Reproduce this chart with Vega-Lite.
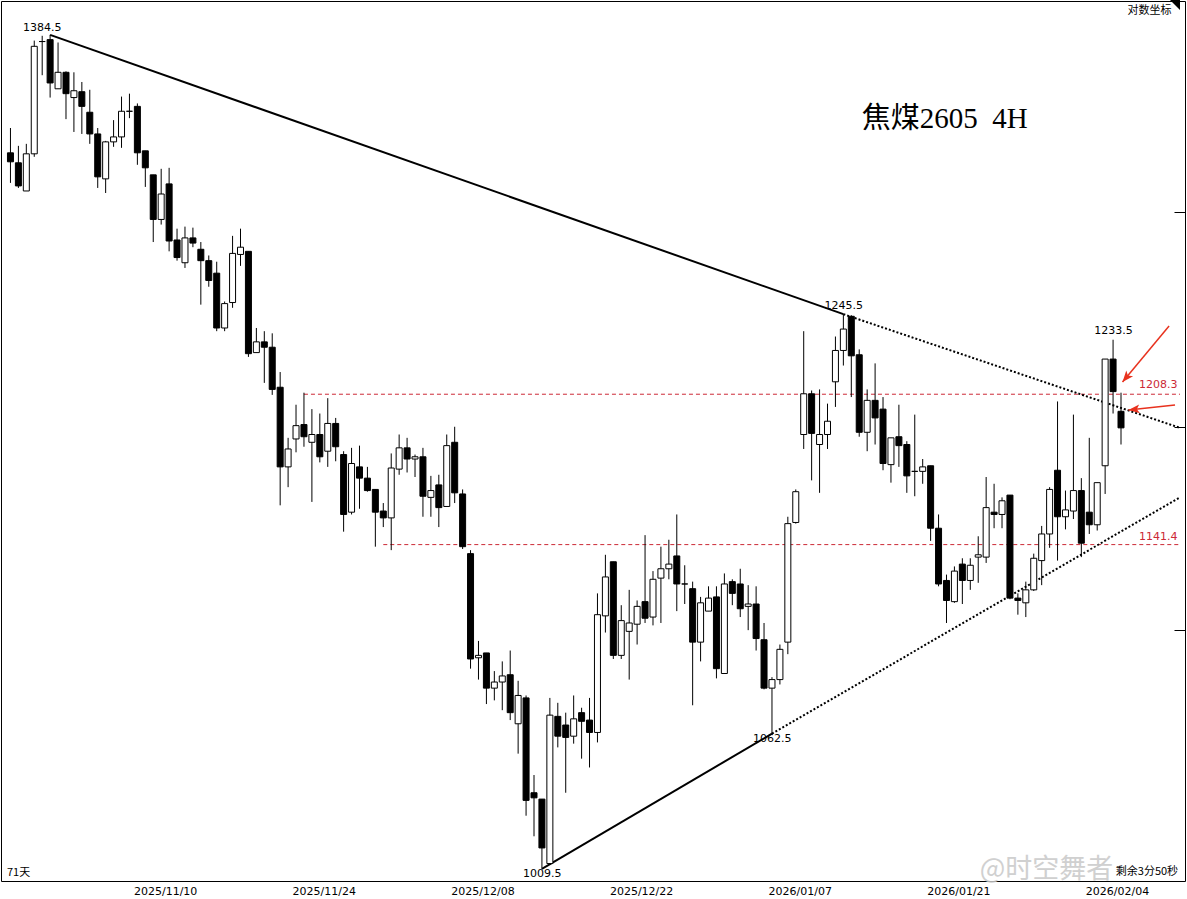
{
  "$schema": "https://vega.github.io/schema/vega-lite/v6.json",
  "width": 1184,
  "height": 880,
  "autosize": "none",
  "padding": {"left": 1, "top": 1, "right": 2, "bottom": 18},
  "background": "white",
  "config": {"view": {"stroke": "black", "strokeWidth": 1}},
  "datasets": {
    "candles": [
      {"i":0,"o":1324,"h":1336.5,"l":1309,"c":1319.5},
      {"i":1,"o":1319,"h":1327.5,"l":1306.5,"c":1307.5},
      {"i":2,"o":1305,"h":1328.5,"l":1305,"c":1323.5},
      {"i":3,"o":1323.5,"h":1381.5,"l":1322,"c":1378.5},
      {"i":4,"o":1381,"h":1384,"l":1363.5,"c":1381},
      {"i":5,"o":1382,"h":1384.5,"l":1352,"c":1359.5},
      {"i":6,"o":1356.5,"h":1380.5,"l":1356.5,"c":1365},
      {"i":7,"o":1365,"h":1365.5,"l":1341,"c":1354},
      {"i":8,"o":1352,"h":1365,"l":1334.5,"c":1355.5},
      {"i":9,"o":1355,"h":1360,"l":1333.5,"c":1347.5},
      {"i":10,"o":1344.5,"h":1356,"l":1328.5,"c":1333.5},
      {"i":11,"o":1333.5,"h":1336.5,"l":1306.5,"c":1312},
      {"i":12,"o":1311,"h":1330,"l":1304,"c":1329.5},
      {"i":13,"o":1329.5,"h":1340.5,"l":1327,"c":1332},
      {"i":14,"o":1332,"h":1352.5,"l":1326.5,"c":1345},
      {"i":15,"o":1345,"h":1354,"l":1341.5,"c":1345},
      {"i":16,"o":1347.5,"h":1349,"l":1318,"c":1324},
      {"i":17,"o":1325,"h":1325,"l":1307,"c":1316.5},
      {"i":18,"o":1313,"h":1313,"l":1280,"c":1291},
      {"i":19,"o":1291,"h":1316,"l":1288.5,"c":1303.5},
      {"i":20,"o":1308.5,"h":1316.5,"l":1275.5,"c":1280.5},
      {"i":21,"o":1281,"h":1286.5,"l":1271,"c":1272.5},
      {"i":22,"o":1270,"h":1287.5,"l":1267.5,"c":1282},
      {"i":23,"o":1282,"h":1287,"l":1277.5,"c":1279.5},
      {"i":24,"o":1276.5,"h":1280,"l":1250,"c":1271},
      {"i":25,"o":1271,"h":1273.5,"l":1258.5,"c":1261.5},
      {"i":26,"o":1265,"h":1270.5,"l":1237.5,"c":1239},
      {"i":27,"o":1239,"h":1251.5,"l":1237.5,"c":1250.5},
      {"i":28,"o":1251,"h":1283,"l":1248.5,"c":1274.5},
      {"i":29,"o":1274,"h":1286.5,"l":1268.5,"c":1277.5},
      {"i":30,"o":1275.5,"h":1275.5,"l":1225.5,"c":1227},
      {"i":31,"o":1227.5,"h":1239,"l":1227.5,"c":1232.5},
      {"i":32,"o":1232.5,"h":1237.5,"l":1213.5,"c":1230},
      {"i":33,"o":1230,"h":1236.5,"l":1208,"c":1210.5},
      {"i":34,"o":1211.5,"h":1218.5,"l":1158.5,"c":1175.5},
      {"i":35,"o":1175.5,"h":1188.5,"l":1166.5,"c":1183.5},
      {"i":36,"o":1188,"h":1203.5,"l":1182,"c":1194},
      {"i":37,"o":1194.5,"h":1209,"l":1184.5,"c":1189},
      {"i":38,"o":1186.5,"h":1201.5,"l":1160,"c":1190},
      {"i":39,"o":1190,"h":1199.5,"l":1177.5,"c":1180},
      {"i":40,"o":1182.5,"h":1206.5,"l":1175.5,"c":1195},
      {"i":41,"o":1195,"h":1197.5,"l":1178,"c":1184.5},
      {"i":42,"o":1181,"h":1182.5,"l":1147,"c":1154.5},
      {"i":43,"o":1155.5,"h":1184,"l":1154.5,"c":1177},
      {"i":44,"o":1175.5,"h":1185,"l":1157,"c":1170.5},
      {"i":45,"o":1170.5,"h":1175.5,"l":1164.5,"c":1165},
      {"i":46,"o":1165.5,"h":1165.5,"l":1140.5,"c":1155.5},
      {"i":47,"o":1156,"h":1159.5,"l":1149,"c":1153},
      {"i":48,"o":1153,"h":1181.5,"l":1139,"c":1175},
      {"i":49,"o":1174.5,"h":1190,"l":1172,"c":1184},
      {"i":50,"o":1184,"h":1188.5,"l":1173,"c":1179},
      {"i":51,"o":1179,"h":1181,"l":1171,"c":1180},
      {"i":52,"o":1180,"h":1184,"l":1153.5,"c":1162.5},
      {"i":53,"o":1162,"h":1171.5,"l":1153.5,"c":1165},
      {"i":54,"o":1167.5,"h":1172,"l":1149,"c":1157.5},
      {"i":55,"o":1158,"h":1190,"l":1158,"c":1185},
      {"i":56,"o":1186.5,"h":1193.5,"l":1159.5,"c":1164},
      {"i":57,"o":1163.5,"h":1165.5,"l":1139.5,"c":1140.5},
      {"i":58,"o":1137.5,"h":1139,"l":1089,"c":1093},
      {"i":59,"o":1093.5,"h":1100.5,"l":1084.5,"c":1094.5},
      {"i":60,"o":1095.5,"h":1095.5,"l":1074.5,"c":1081},
      {"i":61,"o":1081,"h":1088,"l":1076,"c":1083.5},
      {"i":62,"o":1083.5,"h":1092,"l":1072,"c":1086},
      {"i":63,"o":1086.5,"h":1096.5,"l":1068,"c":1071},
      {"i":64,"o":1066.5,"h":1084,"l":1054.5,"c":1078},
      {"i":65,"o":1077,"h":1078,"l":1030,"c":1036},
      {"i":66,"o":1039,"h":1046,"l":1022,"c":1037},
      {"i":67,"o":1036.5,"h":1036.5,"l":1009.5,"c":1017.5},
      {"i":68,"o":1011.5,"h":1077,"l":1011,"c":1070},
      {"i":69,"o":1069.5,"h":1075,"l":1057,"c":1061.5},
      {"i":70,"o":1066,"h":1071,"l":1039,"c":1061},
      {"i":71,"o":1061.5,"h":1078,"l":1058.5,"c":1068.5},
      {"i":72,"o":1071,"h":1073,"l":1052.5,"c":1067.5},
      {"i":73,"o":1068,"h":1077,"l":1049,"c":1063},
      {"i":74,"o":1063,"h":1120.5,"l":1059,"c":1111.5},
      {"i":75,"o":1111,"h":1137,"l":1104,"c":1127.5},
      {"i":76,"o":1134,"h":1134,"l":1093,"c":1094.5},
      {"i":77,"o":1094.5,"h":1115.5,"l":1093,"c":1109},
      {"i":78,"o":1104.5,"h":1122,"l":1084.5,"c":1108},
      {"i":79,"o":1107.5,"h":1117.5,"l":1099,"c":1115},
      {"i":80,"o":1117,"h":1145.5,"l":1108,"c":1110},
      {"i":81,"o":1110.5,"h":1130,"l":1107,"c":1126.5},
      {"i":82,"o":1127,"h":1140.5,"l":1108,"c":1131},
      {"i":83,"o":1131,"h":1143.5,"l":1126.5,"c":1133},
      {"i":84,"o":1136.5,"h":1154.5,"l":1113,"c":1124.5},
      {"i":85,"o":1124.5,"h":1132.5,"l":1116,"c":1124.5},
      {"i":86,"o":1122.5,"h":1125.5,"l":1074,"c":1100},
      {"i":87,"o":1100,"h":1119,"l":1092,"c":1116.5},
      {"i":88,"o":1113,"h":1123.5,"l":1113,"c":1118.5},
      {"i":89,"o":1119,"h":1123.5,"l":1085,"c":1089},
      {"i":90,"o":1087,"h":1129,"l":1087,"c":1124.5},
      {"i":91,"o":1125.5,"h":1126.5,"l":1115.5,"c":1120.5},
      {"i":92,"o":1124.5,"h":1131,"l":1110.5,"c":1114},
      {"i":93,"o":1115,"h":1124,"l":1105,"c":1116},
      {"i":94,"o":1116,"h":1123.5,"l":1096.5,"c":1101.5},
      {"i":95,"o":1101,"h":1108,"l":1080.5,"c":1081},
      {"i":96,"o":1081,"h":1085.5,"l":1062.5,"c":1084.5},
      {"i":97,"o":1084.5,"h":1099,"l":1082.5,"c":1097},
      {"i":98,"o":1100,"h":1153.5,"l":1095,"c":1150.5},
      {"i":99,"o":1151,"h":1165.5,"l":1150.5,"c":1164.5},
      {"i":100,"o":1190,"h":1237.5,"l":1183.5,"c":1208.5},
      {"i":101,"o":1208.5,"h":1210,"l":1169.5,"c":1190.5},
      {"i":102,"o":1185.5,"h":1210.5,"l":1164,"c":1190},
      {"i":103,"o":1190,"h":1204,"l":1183.5,"c":1196},
      {"i":104,"o":1214,"h":1235,"l":1202.5,"c":1228.5},
      {"i":105,"o":1228.5,"h":1245.5,"l":1221.5,"c":1238.5},
      {"i":106,"o":1244.5,"h":1245,"l":1207,"c":1226},
      {"i":107,"o":1226.5,"h":1229,"l":1189,"c":1191},
      {"i":108,"o":1191,"h":1210.5,"l":1182.5,"c":1205.5},
      {"i":109,"o":1205.5,"h":1222.5,"l":1185.5,"c":1197.5},
      {"i":110,"o":1201.5,"h":1207,"l":1174,"c":1177},
      {"i":111,"o":1176.5,"h":1188.5,"l":1168.5,"c":1188.5},
      {"i":112,"o":1189,"h":1203.5,"l":1175.5,"c":1185},
      {"i":113,"o":1185.5,"h":1187,"l":1164,"c":1171.5},
      {"i":114,"o":1173.5,"h":1199,"l":1162.5,"c":1173.5},
      {"i":115,"o":1173.5,"h":1179,"l":1168,"c":1175.5},
      {"i":116,"o":1176,"h":1176,"l":1143,"c":1148.5},
      {"i":117,"o":1148.5,"h":1154.5,"l":1123.5,"c":1124.5},
      {"i":118,"o":1126,"h":1128.5,"l":1108,"c":1117.5},
      {"i":119,"o":1117,"h":1132,"l":1116.5,"c":1130},
      {"i":120,"o":1133,"h":1135.5,"l":1116,"c":1126},
      {"i":121,"o":1126,"h":1135.5,"l":1122,"c":1132.5},
      {"i":122,"o":1136,"h":1145,"l":1125,"c":1137},
      {"i":123,"o":1136,"h":1171,"l":1133.5,"c":1157.5},
      {"i":124,"o":1155.5,"h":1168,"l":1148.5,"c":1154.5},
      {"i":125,"o":1154.5,"h":1162,"l":1148.5,"c":1160.5},
      {"i":126,"o":1163,"h":1163,"l":1118,"c":1118.5},
      {"i":127,"o":1118.5,"h":1120.5,"l":1111.5,"c":1117.5},
      {"i":128,"o":1116.5,"h":1125.5,"l":1110.5,"c":1122},
      {"i":129,"o":1122,"h":1137.5,"l":1121.5,"c":1135.5},
      {"i":130,"o":1134.5,"h":1149.5,"l":1124,"c":1146},
      {"i":131,"o":1146,"h":1166.5,"l":1140,"c":1165.5},
      {"i":132,"o":1174,"h":1205,"l":1134.5,"c":1153.5},
      {"i":133,"o":1153.5,"h":1165,"l":1148,"c":1156.5},
      {"i":134,"o":1156,"h":1199,"l":1152.5,"c":1165},
      {"i":135,"o":1165,"h":1170.5,"l":1136,"c":1142},
      {"i":136,"o":1155.5,"h":1188.5,"l":1146,"c":1150},
      {"i":137,"o":1150,"h":1168.5,"l":1147.5,"c":1168.5},
      {"i":138,"o":1176,"h":1224.5,"l":1163.5,"c":1224.5},
      {"i":139,"o":1224.5,"h":1233.5,"l":1199.5,"c":1209.5},
      {"i":140,"o":1200.5,"h":1209,"l":1185.5,"c":1193}
    ],
    "trend_solid": [
      {"i":5,"p":1384.5,"i2":105,"p2":1245.5},
      {"i":67,"p":1009.5,"i2":96,"p2":1062.5}
    ],
    "trend_dotted": [
      {"i":105,"p":1245.5,"i2":147.4375,"p2":1193},
      {"i":96,"p":1062.5,"i2":147.4375,"p2":1162}
    ],
    "levels": [
      {"i":37,"i2":147.4375,"p":1208.3},
      {"i":47,"i2":147.4375,"p":1141.4}
    ],
    "arrows": [
      {"arrow":"A","i":146.06,"p":1239.9,"i2":140.19,"p2":1213.9},
      {"arrow":"B","i":146.81,"p":1203.4,"i2":140.94,"p2":1201.1}
    ],
    "price_labels": [
      {"i":4.0,"p":1388.3,"t":"1384.5"},
      {"i":105.04,"p":1249.4,"t":"1245.5"},
      {"i":139.06,"p":1237.6,"t":"1233.5"},
      {"i":96.03,"p":1060.4,"t":"1062.5"},
      {"i":67.03,"p":1007.5,"t":"1009.5"}
    ],
    "level_labels": [
      {"i":144.69,"p":1212.7,"t":"1208.3"},
      {"i":144.69,"p":1144.9,"t":"1141.4"}
    ]
  },
  "layer": [
    {
      "data": {"name": "levels"},
      "mark": {"type": "rule", "color": "#cc2936", "strokeWidth": 1, "strokeDash": [4, 3]},
      "encoding": {
        "x": {"field": "i", "type": "quantitative", "scale": {"type": "linear", "domain": [-0.5625, 147.4375], "nice": false, "zero": false}, "axis": {"orient": "bottom", "title": null, "values": [19.5, 39.5, 59.5, 79.5, 99.5, 119.5, 139.5], "labelExpr": "datum.value < 20 ? '2025/11/10' : datum.value < 40 ? '2025/11/24' : datum.value < 60 ? '2025/12/08' : datum.value < 80 ? '2025/12/22' : datum.value < 100 ? '2026/01/07' : datum.value < 120 ? '2026/01/21' : '2026/02/04'", "ticks": false, "domain": false, "grid": false, "labelFont": "DejaVu Sans", "labelFontSize": 11, "labelColor": "#000000", "labelPadding": 4, "labelOverlap": false, "labelFlush": false}},
        "x2": {"field": "i2"},
        "y": {"field": "p", "type": "quantitative", "scale": {"type": "log", "domain": [1004.84, 1402.37], "nice": false}, "axis": {"orient": "right", "title": null, "values": [1294.6, 1193.5, 1105.1], "labels": false, "ticks": true, "tickSize": -11, "tickColor": "#000000", "tickWidth": 1, "domain": false, "grid": false}}
      }
    },
    {
      "data": {"name": "trend_solid"},
      "mark": {"type": "rule", "color": "#000000", "strokeWidth": 2},
      "encoding": {
        "x": {"field": "i", "type": "quantitative", "scale": {"type": "linear", "domain": [-0.5625, 147.4375], "nice": false, "zero": false}, "axis": {"orient": "bottom", "title": null, "values": [19.5, 39.5, 59.5, 79.5, 99.5, 119.5, 139.5], "labelExpr": "datum.value < 20 ? '2025/11/10' : datum.value < 40 ? '2025/11/24' : datum.value < 60 ? '2025/12/08' : datum.value < 80 ? '2025/12/22' : datum.value < 100 ? '2026/01/07' : datum.value < 120 ? '2026/01/21' : '2026/02/04'", "ticks": false, "domain": false, "grid": false, "labelFont": "DejaVu Sans", "labelFontSize": 11, "labelColor": "#000000", "labelPadding": 4, "labelOverlap": false, "labelFlush": false}},
        "x2": {"field": "i2"},
        "y": {"field": "p", "type": "quantitative", "scale": {"type": "log", "domain": [1004.84, 1402.37], "nice": false}, "axis": {"orient": "right", "title": null, "values": [1294.6, 1193.5, 1105.1], "labels": false, "ticks": true, "tickSize": -11, "tickColor": "#000000", "tickWidth": 1, "domain": false, "grid": false}},
        "y2": {"field": "p2"}
      }
    },
    {
      "data": {"name": "trend_dotted"},
      "mark": {"type": "rule", "color": "#000000", "strokeWidth": 2, "strokeDash": [2, 2]},
      "encoding": {
        "x": {"field": "i", "type": "quantitative", "scale": {"type": "linear", "domain": [-0.5625, 147.4375], "nice": false, "zero": false}, "axis": {"orient": "bottom", "title": null, "values": [19.5, 39.5, 59.5, 79.5, 99.5, 119.5, 139.5], "labelExpr": "datum.value < 20 ? '2025/11/10' : datum.value < 40 ? '2025/11/24' : datum.value < 60 ? '2025/12/08' : datum.value < 80 ? '2025/12/22' : datum.value < 100 ? '2026/01/07' : datum.value < 120 ? '2026/01/21' : '2026/02/04'", "ticks": false, "domain": false, "grid": false, "labelFont": "DejaVu Sans", "labelFontSize": 11, "labelColor": "#000000", "labelPadding": 4, "labelOverlap": false, "labelFlush": false}},
        "x2": {"field": "i2"},
        "y": {"field": "p", "type": "quantitative", "scale": {"type": "log", "domain": [1004.84, 1402.37], "nice": false}, "axis": {"orient": "right", "title": null, "values": [1294.6, 1193.5, 1105.1], "labels": false, "ticks": true, "tickSize": -11, "tickColor": "#000000", "tickWidth": 1, "domain": false, "grid": false}},
        "y2": {"field": "p2"}
      }
    },
    {
      "data": {"name": "candles"},
      "mark": {"type": "rule", "color": "#000000", "strokeWidth": 1},
      "encoding": {
        "x": {"field": "i", "type": "quantitative", "scale": {"type": "linear", "domain": [-0.5625, 147.4375], "nice": false, "zero": false}, "axis": {"orient": "bottom", "title": null, "values": [19.5, 39.5, 59.5, 79.5, 99.5, 119.5, 139.5], "labelExpr": "datum.value < 20 ? '2025/11/10' : datum.value < 40 ? '2025/11/24' : datum.value < 60 ? '2025/12/08' : datum.value < 80 ? '2025/12/22' : datum.value < 100 ? '2026/01/07' : datum.value < 120 ? '2026/01/21' : '2026/02/04'", "ticks": false, "domain": false, "grid": false, "labelFont": "DejaVu Sans", "labelFontSize": 11, "labelColor": "#000000", "labelPadding": 4, "labelOverlap": false, "labelFlush": false}},
        "y": {"field": "l", "type": "quantitative", "scale": {"type": "log", "domain": [1004.84, 1402.37], "nice": false}, "axis": {"orient": "right", "title": null, "values": [1294.6, 1193.5, 1105.1], "labels": false, "ticks": true, "tickSize": -11, "tickColor": "#000000", "tickWidth": 1, "domain": false, "grid": false}},
        "y2": {"field": "h"}
      }
    },
    {
      "data": {"name": "candles"},
      "mark": {"type": "bar", "width": 6, "stroke": "#000000", "strokeWidth": 1},
      "encoding": {
        "x": {"field": "i", "type": "quantitative", "scale": {"type": "linear", "domain": [-0.5625, 147.4375], "nice": false, "zero": false}, "axis": {"orient": "bottom", "title": null, "values": [19.5, 39.5, 59.5, 79.5, 99.5, 119.5, 139.5], "labelExpr": "datum.value < 20 ? '2025/11/10' : datum.value < 40 ? '2025/11/24' : datum.value < 60 ? '2025/12/08' : datum.value < 80 ? '2025/12/22' : datum.value < 100 ? '2026/01/07' : datum.value < 120 ? '2026/01/21' : '2026/02/04'", "ticks": false, "domain": false, "grid": false, "labelFont": "DejaVu Sans", "labelFontSize": 11, "labelColor": "#000000", "labelPadding": 4, "labelOverlap": false, "labelFlush": false}},
        "y": {"field": "o", "type": "quantitative", "scale": {"type": "log", "domain": [1004.84, 1402.37], "nice": false}, "axis": {"orient": "right", "title": null, "values": [1294.6, 1193.5, 1105.1], "labels": false, "ticks": true, "tickSize": -11, "tickColor": "#000000", "tickWidth": 1, "domain": false, "grid": false}},
        "y2": {"field": "c"},
        "fill": {"condition": {"test": "datum.c < datum.o", "value": "#000000"}, "value": "#ffffff"}
      }
    },
    {
      "data": {"name": "arrows"},
      "mark": {"type": "rule", "color": "#e8321e", "strokeWidth": 1.5},
      "encoding": {
        "x": {"field": "i", "type": "quantitative", "scale": {"type": "linear", "domain": [-0.5625, 147.4375], "nice": false, "zero": false}, "axis": {"orient": "bottom", "title": null, "values": [19.5, 39.5, 59.5, 79.5, 99.5, 119.5, 139.5], "labelExpr": "datum.value < 20 ? '2025/11/10' : datum.value < 40 ? '2025/11/24' : datum.value < 60 ? '2025/12/08' : datum.value < 80 ? '2025/12/22' : datum.value < 100 ? '2026/01/07' : datum.value < 120 ? '2026/01/21' : '2026/02/04'", "ticks": false, "domain": false, "grid": false, "labelFont": "DejaVu Sans", "labelFontSize": 11, "labelColor": "#000000", "labelPadding": 4, "labelOverlap": false, "labelFlush": false}},
        "x2": {"field": "i2"},
        "y": {"field": "p", "type": "quantitative", "scale": {"type": "log", "domain": [1004.84, 1402.37], "nice": false}, "axis": {"orient": "right", "title": null, "values": [1294.6, 1193.5, 1105.1], "labels": false, "ticks": true, "tickSize": -11, "tickColor": "#000000", "tickWidth": 1, "domain": false, "grid": false}},
        "y2": {"field": "p2"}
      }
    },
    {
      "data": {"name": "arrows"},
      "mark": {"type": "point", "shape": "M 0 0 L -1 -0.4 L -0.75 0 L -1 0.4 Z", "filled": true, "color": "#e8321e", "size": 500, "opacity": 1},
      "encoding": {
        "x": {"field": "i2", "type": "quantitative", "scale": {"type": "linear", "domain": [-0.5625, 147.4375], "nice": false, "zero": false}, "axis": {"orient": "bottom", "title": null, "values": [19.5, 39.5, 59.5, 79.5, 99.5, 119.5, 139.5], "labelExpr": "datum.value < 20 ? '2025/11/10' : datum.value < 40 ? '2025/11/24' : datum.value < 60 ? '2025/12/08' : datum.value < 80 ? '2025/12/22' : datum.value < 100 ? '2026/01/07' : datum.value < 120 ? '2026/01/21' : '2026/02/04'", "ticks": false, "domain": false, "grid": false, "labelFont": "DejaVu Sans", "labelFontSize": 11, "labelColor": "#000000", "labelPadding": 4, "labelOverlap": false, "labelFlush": false}},
        "y": {"field": "p2", "type": "quantitative", "scale": {"type": "log", "domain": [1004.84, 1402.37], "nice": false}, "axis": {"orient": "right", "title": null, "values": [1294.6, 1193.5, 1105.1], "labels": false, "ticks": true, "tickSize": -11, "tickColor": "#000000", "tickWidth": 1, "domain": false, "grid": false}},
        "angle": {"field": "arrow", "type": "nominal", "scale": {"domain": ["A", "B"], "range": [130, 174]}, "legend": null}
      }
    },
    {
      "data": {"values": [{"i": 146.81, "p": 1400.2}]},
      "mark": {"type": "point", "shape": "M -1 -1 L 1 -1 L 1 1 Z", "filled": true, "color": "#000000", "size": 100, "opacity": 1},
      "encoding": {
        "x": {"field": "i", "type": "quantitative", "scale": {"type": "linear", "domain": [-0.5625, 147.4375], "nice": false, "zero": false}, "axis": {"orient": "bottom", "title": null, "values": [19.5, 39.5, 59.5, 79.5, 99.5, 119.5, 139.5], "labelExpr": "datum.value < 20 ? '2025/11/10' : datum.value < 40 ? '2025/11/24' : datum.value < 60 ? '2025/12/08' : datum.value < 80 ? '2025/12/22' : datum.value < 100 ? '2026/01/07' : datum.value < 120 ? '2026/01/21' : '2026/02/04'", "ticks": false, "domain": false, "grid": false, "labelFont": "DejaVu Sans", "labelFontSize": 11, "labelColor": "#000000", "labelPadding": 4, "labelOverlap": false, "labelFlush": false}},
        "y": {"field": "p", "type": "quantitative", "scale": {"type": "log", "domain": [1004.84, 1402.37], "nice": false}, "axis": {"orient": "right", "title": null, "values": [1294.6, 1193.5, 1105.1], "labels": false, "ticks": true, "tickSize": -11, "tickColor": "#000000", "tickWidth": 1, "domain": false, "grid": false}}
      }
    },
    {
      "data": {"name": "price_labels"},
      "mark": {"type": "text", "font": "DejaVu Sans", "fontSize": 11, "color": "#000000", "align": "center", "baseline": "middle"},
      "encoding": {
        "x": {"field": "i", "type": "quantitative", "scale": {"type": "linear", "domain": [-0.5625, 147.4375], "nice": false, "zero": false}, "axis": {"orient": "bottom", "title": null, "values": [19.5, 39.5, 59.5, 79.5, 99.5, 119.5, 139.5], "labelExpr": "datum.value < 20 ? '2025/11/10' : datum.value < 40 ? '2025/11/24' : datum.value < 60 ? '2025/12/08' : datum.value < 80 ? '2025/12/22' : datum.value < 100 ? '2026/01/07' : datum.value < 120 ? '2026/01/21' : '2026/02/04'", "ticks": false, "domain": false, "grid": false, "labelFont": "DejaVu Sans", "labelFontSize": 11, "labelColor": "#000000", "labelPadding": 4, "labelOverlap": false, "labelFlush": false}},
        "y": {"field": "p", "type": "quantitative", "scale": {"type": "log", "domain": [1004.84, 1402.37], "nice": false}, "axis": {"orient": "right", "title": null, "values": [1294.6, 1193.5, 1105.1], "labels": false, "ticks": true, "tickSize": -11, "tickColor": "#000000", "tickWidth": 1, "domain": false, "grid": false}},
        "text": {"field": "t"}
      }
    },
    {
      "data": {"name": "level_labels"},
      "mark": {"type": "text", "font": "DejaVu Sans", "fontSize": 11, "color": "#cc2936", "align": "center", "baseline": "middle"},
      "encoding": {
        "x": {"field": "i", "type": "quantitative", "scale": {"type": "linear", "domain": [-0.5625, 147.4375], "nice": false, "zero": false}, "axis": {"orient": "bottom", "title": null, "values": [19.5, 39.5, 59.5, 79.5, 99.5, 119.5, 139.5], "labelExpr": "datum.value < 20 ? '2025/11/10' : datum.value < 40 ? '2025/11/24' : datum.value < 60 ? '2025/12/08' : datum.value < 80 ? '2025/12/22' : datum.value < 100 ? '2026/01/07' : datum.value < 120 ? '2026/01/21' : '2026/02/04'", "ticks": false, "domain": false, "grid": false, "labelFont": "DejaVu Sans", "labelFontSize": 11, "labelColor": "#000000", "labelPadding": 4, "labelOverlap": false, "labelFlush": false}},
        "y": {"field": "p", "type": "quantitative", "scale": {"type": "log", "domain": [1004.84, 1402.37], "nice": false}, "axis": {"orient": "right", "title": null, "values": [1294.6, 1193.5, 1105.1], "labels": false, "ticks": true, "tickSize": -11, "tickColor": "#000000", "tickWidth": 1, "domain": false, "grid": false}},
        "text": {"field": "t"}
      }
    },
    {
      "data": {"values": [{"i": 117.78, "p": 1341.3, "t": "焦煤2605\u00a0\u00a04H"}]},
      "mark": {"type": "text", "font": "Liberation Serif, Noto Sans CJK SC", "fontSize": 29, "color": "#000000", "align": "center", "baseline": "middle"},
      "encoding": {
        "x": {"field": "i", "type": "quantitative", "scale": {"type": "linear", "domain": [-0.5625, 147.4375], "nice": false, "zero": false}, "axis": {"orient": "bottom", "title": null, "values": [19.5, 39.5, 59.5, 79.5, 99.5, 119.5, 139.5], "labelExpr": "datum.value < 20 ? '2025/11/10' : datum.value < 40 ? '2025/11/24' : datum.value < 60 ? '2025/12/08' : datum.value < 80 ? '2025/12/22' : datum.value < 100 ? '2026/01/07' : datum.value < 120 ? '2026/01/21' : '2026/02/04'", "ticks": false, "domain": false, "grid": false, "labelFont": "DejaVu Sans", "labelFontSize": 11, "labelColor": "#000000", "labelPadding": 4, "labelOverlap": false, "labelFlush": false}},
        "y": {"field": "p", "type": "quantitative", "scale": {"type": "log", "domain": [1004.84, 1402.37], "nice": false}, "axis": {"orient": "right", "title": null, "values": [1294.6, 1193.5, 1105.1], "labels": false, "ticks": true, "tickSize": -11, "tickColor": "#000000", "tickWidth": 1, "domain": false, "grid": false}},
        "text": {"field": "t"}
      }
    },
    {
      "data": {"values": [{"i": 143.6, "p": 1397.1, "t": "对数坐标"}]},
      "mark": {"type": "text", "font": "Noto Sans CJK SC", "fontSize": 11, "color": "#000000", "align": "center", "baseline": "middle"},
      "encoding": {
        "x": {"field": "i", "type": "quantitative", "scale": {"type": "linear", "domain": [-0.5625, 147.4375], "nice": false, "zero": false}, "axis": {"orient": "bottom", "title": null, "values": [19.5, 39.5, 59.5, 79.5, 99.5, 119.5, 139.5], "labelExpr": "datum.value < 20 ? '2025/11/10' : datum.value < 40 ? '2025/11/24' : datum.value < 60 ? '2025/12/08' : datum.value < 80 ? '2025/12/22' : datum.value < 100 ? '2026/01/07' : datum.value < 120 ? '2026/01/21' : '2026/02/04'", "ticks": false, "domain": false, "grid": false, "labelFont": "DejaVu Sans", "labelFontSize": 11, "labelColor": "#000000", "labelPadding": 4, "labelOverlap": false, "labelFlush": false}},
        "y": {"field": "p", "type": "quantitative", "scale": {"type": "log", "domain": [1004.84, 1402.37], "nice": false}, "axis": {"orient": "right", "title": null, "values": [1294.6, 1193.5, 1105.1], "labels": false, "ticks": true, "tickSize": -11, "tickColor": "#000000", "tickWidth": 1, "domain": false, "grid": false}},
        "text": {"field": "t"}
      }
    },
    {
      "data": {"values": [{"i": 147.2, "p": 1008.3, "t": "剩余3分50秒"}]},
      "mark": {"type": "text", "font": "Noto Sans CJK SC", "fontSize": 11, "color": "#000000", "align": "right", "baseline": "middle"},
      "encoding": {
        "x": {"field": "i", "type": "quantitative", "scale": {"type": "linear", "domain": [-0.5625, 147.4375], "nice": false, "zero": false}, "axis": {"orient": "bottom", "title": null, "values": [19.5, 39.5, 59.5, 79.5, 99.5, 119.5, 139.5], "labelExpr": "datum.value < 20 ? '2025/11/10' : datum.value < 40 ? '2025/11/24' : datum.value < 60 ? '2025/12/08' : datum.value < 80 ? '2025/12/22' : datum.value < 100 ? '2026/01/07' : datum.value < 120 ? '2026/01/21' : '2026/02/04'", "ticks": false, "domain": false, "grid": false, "labelFont": "DejaVu Sans", "labelFontSize": 11, "labelColor": "#000000", "labelPadding": 4, "labelOverlap": false, "labelFlush": false}},
        "y": {"field": "p", "type": "quantitative", "scale": {"type": "log", "domain": [1004.84, 1402.37], "nice": false}, "axis": {"orient": "right", "title": null, "values": [1294.6, 1193.5, 1105.1], "labels": false, "ticks": true, "tickSize": -11, "tickColor": "#000000", "tickWidth": 1, "domain": false, "grid": false}},
        "text": {"field": "t"}
      }
    },
    {
      "data": {"values": [{"i": -0.44, "p": 1007.9, "t": "71天"}]},
      "mark": {"type": "text", "font": "Noto Sans CJK SC", "fontSize": 11, "color": "#000000", "align": "left", "baseline": "middle"},
      "encoding": {
        "x": {"field": "i", "type": "quantitative", "scale": {"type": "linear", "domain": [-0.5625, 147.4375], "nice": false, "zero": false}, "axis": {"orient": "bottom", "title": null, "values": [19.5, 39.5, 59.5, 79.5, 99.5, 119.5, 139.5], "labelExpr": "datum.value < 20 ? '2025/11/10' : datum.value < 40 ? '2025/11/24' : datum.value < 60 ? '2025/12/08' : datum.value < 80 ? '2025/12/22' : datum.value < 100 ? '2026/01/07' : datum.value < 120 ? '2026/01/21' : '2026/02/04'", "ticks": false, "domain": false, "grid": false, "labelFont": "DejaVu Sans", "labelFontSize": 11, "labelColor": "#000000", "labelPadding": 4, "labelOverlap": false, "labelFlush": false}},
        "y": {"field": "p", "type": "quantitative", "scale": {"type": "log", "domain": [1004.84, 1402.37], "nice": false}, "axis": {"orient": "right", "title": null, "values": [1294.6, 1193.5, 1105.1], "labels": false, "ticks": true, "tickSize": -11, "tickColor": "#000000", "tickWidth": 1, "domain": false, "grid": false}},
        "text": {"field": "t"}
      }
    },
    {
      "data": {"values": [{"i": 130.6, "p": 1009.0, "t": "@时空舞者"}]},
      "mark": {"type": "text", "font": "Noto Sans CJK SC", "fontSize": 27, "color": "#c8c8c8", "opacity": 0.85, "align": "center", "baseline": "middle"},
      "encoding": {
        "x": {"field": "i", "type": "quantitative", "scale": {"type": "linear", "domain": [-0.5625, 147.4375], "nice": false, "zero": false}, "axis": {"orient": "bottom", "title": null, "values": [19.5, 39.5, 59.5, 79.5, 99.5, 119.5, 139.5], "labelExpr": "datum.value < 20 ? '2025/11/10' : datum.value < 40 ? '2025/11/24' : datum.value < 60 ? '2025/12/08' : datum.value < 80 ? '2025/12/22' : datum.value < 100 ? '2026/01/07' : datum.value < 120 ? '2026/01/21' : '2026/02/04'", "ticks": false, "domain": false, "grid": false, "labelFont": "DejaVu Sans", "labelFontSize": 11, "labelColor": "#000000", "labelPadding": 4, "labelOverlap": false, "labelFlush": false}},
        "y": {"field": "p", "type": "quantitative", "scale": {"type": "log", "domain": [1004.84, 1402.37], "nice": false}, "axis": {"orient": "right", "title": null, "values": [1294.6, 1193.5, 1105.1], "labels": false, "ticks": true, "tickSize": -11, "tickColor": "#000000", "tickWidth": 1, "domain": false, "grid": false}},
        "text": {"field": "t"}
      }
    }
  ]
}
